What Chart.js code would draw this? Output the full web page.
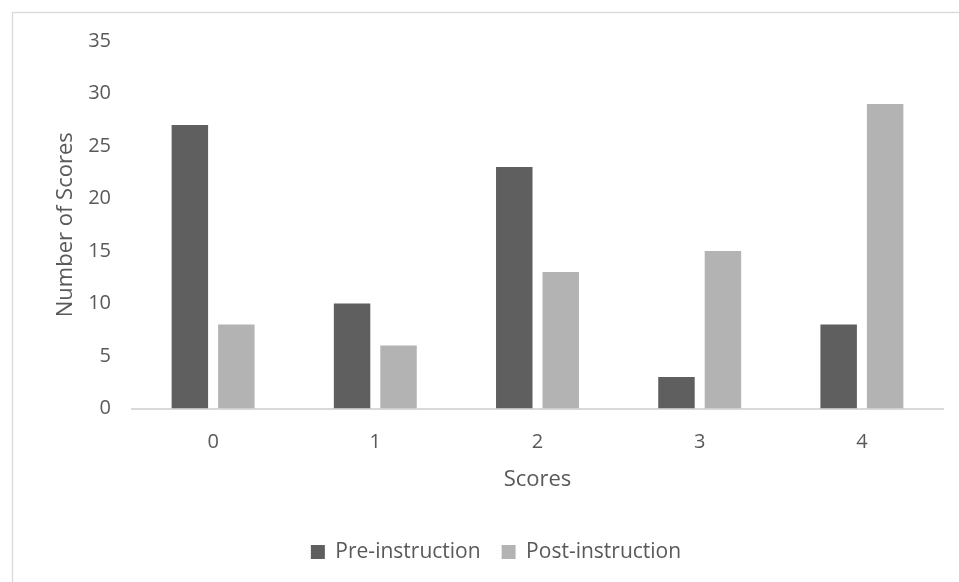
<!DOCTYPE html>
<html>
<head>
<meta charset="utf-8">
<script src="https://cdn.jsdelivr.net/npm/chart.js@4/dist/chart.umd.min.js"></script>
<style>
  html, body { margin: 0; padding: 0; background: #ffffff; }
  #wrap { width: 959px; height: 582px; position: relative; }
</style>
</head>
<body>
<div id="wrap"><canvas id="chart"></canvas></div>
<script>
// Score distribution before and after instruction
const scoreCategories = ['0', '1', '2', '3', '4'];
const preInstruction = [27, 10, 23, 3, 8];
const postInstruction = [8, 6, 13, 15, 29];
const yTicks = [0, 5, 10, 15, 20, 25, 30, 35];

const FONT = "'Open Sans', 'Noto Sans', sans-serif";
const TEXT = '#595959';
const LINE = '#d9d9d9';

// Thin frame around the whole chart
const framePlugin = {
  id: 'frame',
  beforeDraw(chart) {
    const ctx = chart.ctx;
    ctx.save();
    ctx.fillStyle = '#ffffff';
    ctx.fillRect(0, 0, chart.width, chart.height);
    ctx.strokeStyle = LINE;
    ctx.lineWidth = 1.3;
    ctx.strokeRect(12.5, 12.5, chart.width + 20, chart.height + 20);
    ctx.restore();
  }
};

new Chart(document.getElementById('chart'), {
  type: 'bar',
  data: {
    labels: scoreCategories,
    datasets: [
      {
        label: 'Pre-instruction',
        data: preInstruction,
        backgroundColor: '#5f5f5f',
        barPercentage: 0.785,
        categoryPercentage: 0.573
      },
      {
        label: 'Post-instruction',
        data: postInstruction,
        backgroundColor: '#b3b3b3',
        barPercentage: 0.785,
        categoryPercentage: 0.573
      }
    ]
  },
  options: {
    responsive: true,
    maintainAspectRatio: false,
    animation: false,
    devicePixelRatio: 1,
    layout: { padding: { left: 49, right: 16, top: 41, bottom: 9.5 } },
    plugins: {
      legend: {
        position: 'bottom',
        labels: {
          color: TEXT,
          font: { family: FONT, size: 21 },
          boxWidth: 14,
          boxHeight: 14,
          padding: 21
        }
      },
      tooltip: { enabled: false }
    },
    scales: {
      x: {
        grid: { display: false, drawTicks: false },
        border: { display: true, color: LINE, width: 2 },
        ticks: {
          color: TEXT,
          font: { family: FONT, size: 20 },
          padding: 22
        },
        title: {
          display: true,
          text: 'Scores',
          color: TEXT,
          font: { family: FONT, size: 22 },
          padding: { top: -10.2, bottom: 27.8 }
        }
      },
      y: {
        min: 0,
        max: 35,
        afterBuildTicks(scale) {
          scale.ticks = yTicks.map(v => ({ value: v }));
        },
        afterFit(scale) {
          scale.width = 83;
        },
        grid: { display: false, drawTicks: false },
        border: { display: false },
        ticks: {
          color: TEXT,
          font: { family: FONT, size: 20 },
          padding: 21
        },
        title: {
          display: true,
          text: 'Number of Scores',
          color: TEXT,
          font: { family: FONT, size: 22 },
          padding: { top: 4, bottom: 0 }
        }
      }
    }
  },
  plugins: [framePlugin]
});
</script>
</body>
</html>
